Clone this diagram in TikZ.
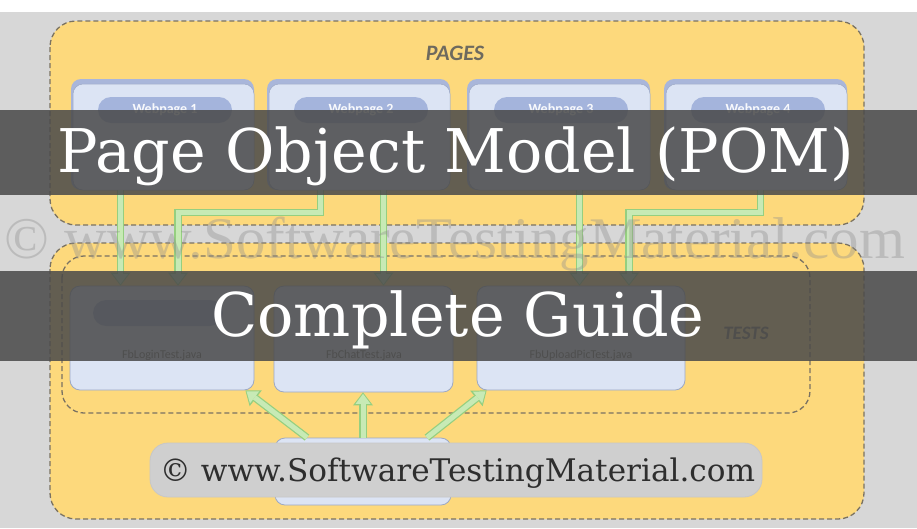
\documentclass[tikz,border=0pt]{standalone}
\usepackage{fontspec}
\usepackage{graphicx}
\setmainfont{DejaVu Serif}
\newfontfamily\labelfont{Carlito}
\newfontfamily\markfont{Liberation Serif}
\usetikzlibrary{arrows.meta}

\definecolor{bgGray}{HTML}{D7D7D7}
\definecolor{padYellow}{HTML}{FDD97C}
\definecolor{dashGray}{HTML}{7A7262}
\definecolor{cardBack}{HTML}{A9B6DA}
\definecolor{cardFront}{HTML}{DCE4F4}
\definecolor{cardEdge}{HTML}{9CA8C4}
\definecolor{pillBlue}{HTML}{A4B4DC}
\definecolor{flowFill}{HTML}{C7EAB5}
\definecolor{flowEdge}{HTML}{95CF80}
\definecolor{bandGray}{HTML}{4A4A4A}
\definecolor{tagGray}{HTML}{CFCFCF}
\definecolor{headGray}{HTML}{6E6A5E}
\definecolor{markGray}{HTML}{8F8F8F}

\tikzset{every picture/.style={line width=0.75pt}}
\tikzset{
	zone/.style={fill=padYellow, draw=dashGray, line width=1.3pt, dash pattern=on 5pt off 3pt, rounded corners=26pt},
	innerzone/.style={draw=dashGray, line width=1.3pt, dash pattern=on 5pt off 3pt, rounded corners=22pt},
	zonetitle/.style={text=headGray, font=\labelfont\bfseries\itshape\fontsize{22}{22}\selectfont},
	cardback/.style={fill=cardBack, rounded corners=10pt, minimum width=183pt, minimum height=111pt, inner sep=0pt},
	pagecard/.style={fill=cardFront, draw=cardEdge, line width=0.5pt, rounded corners=10pt, minimum width=181pt, minimum height=106pt, inner sep=0pt},
	pagepill/.style={fill=pillBlue, rounded corners=13pt, minimum width=134pt, minimum height=26pt, inner sep=0pt, text=white!92!pillBlue, font=\labelfont\bfseries\fontsize{14}{14}\selectfont},
	testcard/.style={fill=cardFront, draw=cardEdge, line width=0.8pt, rounded corners=10pt, inner sep=0pt},
	filename/.style={text=black!60, font=\labelfont\fontsize{12}{12}\selectfont},
	flow/.style={draw=flowFill, line width=5pt, -{Triangle[length=10pt,width=15pt,line width=0pt]}, shorten >=1.5pt,
		preaction={draw=flowEdge, line width=7.5pt, -{Triangle[length=13pt,width=20pt,line width=0pt]}, shorten >=0pt}},
	band/.style={fill=bandGray, opacity=0.86},
	tag/.style={fill=tagGray, draw=black!22, line width=0.8pt, rounded corners=18pt, minimum width=612pt, minimum height=54pt, inner sep=0pt}
}

\begin{document}
\begin{tikzpicture}[x=1pt,y=1pt,yscale=-1]
	%canvas of 917 x 528
	\useasboundingbox (0,0) rectangle (917,528);
	\fill[white] (0,0) rectangle (917,12);
	\fill[bgGray] (0,12) rectangle (917,528);

	% Zones
	\draw[zone] (50,21) rectangle (864,225);
	\draw[zone] (50,243) rectangle (864,519);
	\draw[innerzone] (62,256) rectangle (810,413);

	% Zone titles
	\node[zonetitle] (pagesTitle) at (455,53) {PAGES};
	\node[zonetitle, font=\labelfont\bfseries\itshape\fontsize{19}{19}\selectfont] (testsTitle) at (746,333) {TESTS};

	% Webpages
	\node[cardback] (back1) at (162.5,134.5) {};
	\node[cardback] (back2) at (358.5,134.5) {};
	\node[cardback] (back3) at (558.5,134.5) {};
	\node[cardback] (back4) at (755.5,134.5) {};
	\node[pagecard] (page1) at (163.5,137) {};
	\node[pagecard] (page2) at (359.5,137) {};
	\node[pagecard] (page3) at (559.5,137) {};
	\node[pagecard] (page4) at (756.5,137) {};
	\node[pagepill] (pill1) at (165,110) {Webpage 1};
	\node[pagepill] (pill2) at (361,110) {Webpage 2};
	\node[pagepill] (pill3) at (561,110) {Webpage 3};
	\node[pagepill] (pill4) at (758,110) {Webpage 4};

	% Tests
	\node[testcard, minimum width=184pt, minimum height=104pt] (test1) at (162,338) {};
	\node[testcard, minimum width=179pt, minimum height=106pt] (test2) at (363.5,339) {};
	\node[testcard, minimum width=208pt, minimum height=104pt] (test3) at (581,338) {};
	\node[pagepill, minimum width=130pt] (tpill1) at (158,313) {};
	\node[filename] (file1) at (162,355) {FbLoginTest.java};
	\node[filename] (file2) at (364,355) {FbChatTest.java};
	\node[filename] (file3) at (581,355) {FbUploadPicTest.java};

	% hidden base box
	\node[testcard, minimum width=176pt, minimum height=67pt] (base) at (363,471.5) {};

	% Pages to tests
	\draw[flow] ([xshift=-43pt]page1.south) -- ([xshift=-43pt]page1.south |- test1.north);
	\draw[flow] ([xshift=-39pt]page2.south) -- ++(0,22) -| ([xshift=16pt]test1.north);
	\draw[flow] ([xshift=24pt]page2.south) -- ([xshift=24pt]page2.south |- test2.north);
	\draw[flow] ([xshift=20pt]page3.south) -- ([xshift=20pt]page3.south |- test3.north);
	\draw[flow] ([xshift=4pt]page4.south) -- ++(0,22) -| ([xshift=48pt]test3.north);

	% Base to tests
	\draw[flow] ([xshift=-56pt]base.north) -- ([xshift=-9pt]test1.south east);
	\draw[flow] (base.north) -- (base.north |- test2.south);
	\draw[flow] ([xshift=64pt]base.north) -- ([xshift=10pt]test3.south west);

	% Watermark
	\node[anchor=base, text=markGray, opacity=0.38, inner sep=0pt] (mark) at (455,258) {\markfont\resizebox{900pt}{!}{© www.SoftwareTestingMaterial.com}};

	% Title bands
	\fill[band] (0,110) rectangle (917,195);
	\fill[band] (0,271) rectangle (917,361);
	\node[anchor=base, text=white, inner sep=0pt] (title) at (456,172) {\resizebox{796pt}{!}{Page Object Model (POM)}};
	\node[anchor=base, text=white, inner sep=0pt] (guide) at (458,336) {\resizebox{493pt}{!}{Complete Guide}};

	% Site tag
	\node[tag] (tag) at (456,470) {};
	\node[anchor=base, text=black!82, inner sep=0pt] (tagText) at (457.5,481) {\resizebox{595pt}{!}{© www.SoftwareTestingMaterial.com}};

\end{tikzpicture}
\end{document}
